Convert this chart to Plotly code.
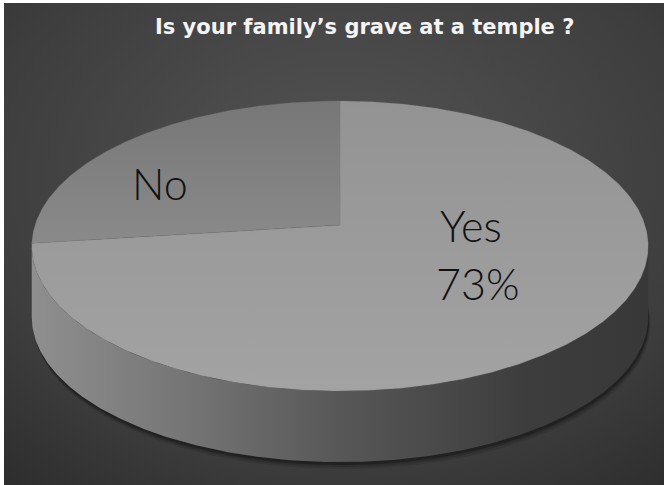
import numpy as np
import plotly.graph_objects as go

# Survey answers
labels = ["Yes", "No"]
values = [73, 27]
title_text = "Is your family’s grave at a temple ?"

# Canvas / pie layout constants (pixel-like axis units)
W, H = 664, 485
CX, CY = 340, 225          # projected centre of the pie's top face
SX, SY = 305, 142          # horizontal / vertical radius scale
K = 0.145                  # perspective strength
DEPTH = 71                 # slab thickness


def project(phi_deg, drop=0.0):
    """Project points on the unit circle (angle clockwise from 12 o'clock)."""
    phi = np.radians(phi_deg)
    u, v = np.sin(phi), np.cos(phi)
    w = 1 + K * v
    return CX + SX * u / w, CY - SY * v / w + drop


fig = go.Figure()

# Background: dark radial vignette
fig.add_trace(go.Scatter(
    x=[-330, 1010, 1010, -330, -330], y=[-330, -330, 690, 690, -330],
    mode="lines", line=dict(width=0), fill="toself",
    fillgradient=dict(type="radial",
                      colorscale=[[0, "#545454"], [0.55, "#3d3d3d"], [1, "#1e1e1e"]]),
    hoverinfo="skip", showlegend=False))

# Full outline samples
phis = np.linspace(0, 360, 721)
tx, ty = project(phis)
bx, by = project(phis, DEPTH)
i_left, i_right = int(np.argmin(tx)), int(np.argmax(tx))

# Soft drop shadow under the slab
for off, op in [(7, 0.10), (5, 0.15), (3, 0.25)]:
    sx_, sy_ = project(phis, DEPTH + off)
    fig.add_trace(go.Scatter(
        x=sx_ + off * 0.3, y=sy_, mode="lines", line=dict(width=0),
        fill="toself", fillcolor=f"rgba(0,0,0,{op})",
        hoverinfo="skip", showlegend=False))

# Side wall: front half of the top rim down to the bottom rim
front = np.arange(i_right, i_left + 1)
side_x = np.concatenate([tx[front], bx[front][::-1], [tx[i_right]]])
side_y = np.concatenate([ty[front], by[front][::-1], [ty[i_right]]])
fig.add_trace(go.Scatter(
    x=side_x, y=side_y, mode="lines", line=dict(width=0), fill="toself",
    fillgradient=dict(type="horizontal",
                      colorscale=[[0, "#8f8f8f"], [0.25, "#757575"],
                                  [0.5, "#575757"], [0.8, "#3d3d3d"], [1, "#383838"]]),
    hoverinfo="skip", showlegend=False))

# Top face slices, clockwise from 12 o'clock
total = sum(values)
slice_fills = {
    "Yes": [[0, "#a3a3a3"], [1, "#939393"]],
    "No": [[0, "#8a8a8a"], [1, "#777777"]],
}
start = 0.0
for lab, val in zip(labels, values):
    sweep = 360.0 * val / total
    a = np.linspace(start, start + sweep, max(int(sweep * 2), 8))
    ax_, ay_ = project(a)
    px = np.concatenate([[CX], ax_, [CX]])
    py = np.concatenate([[CY], ay_, [CY]])
    fig.add_trace(go.Scatter(
        x=px, y=py, mode="lines", line=dict(width=0.5, color="rgba(120,120,120,0.5)"),
        fill="toself",
        fillgradient=dict(type="vertical", colorscale=slice_fills[lab]),
        name=lab, hoverinfo="skip", showlegend=False))
    start += sweep

label_font = dict(family="Lato", size=43, color="#111111", weight=300)
yes_pct = f"{values[labels.index('Yes')]}%"
fig.add_annotation(x=160, y=183, text="No", showarrow=False, font=label_font,
                   xanchor="center", yanchor="middle")
fig.add_annotation(x=471, y=225, text="Yes", showarrow=False, font=label_font,
                   xanchor="center", yanchor="middle")
fig.add_annotation(x=477, y=283, text=yes_pct, showarrow=False, font=label_font,
                   xanchor="center", yanchor="middle")

fig.add_annotation(x=364, y=27, text=f"<b>{title_text}</b>", showarrow=False,
                   font=dict(family="DejaVu Sans", size=21, color="#f4f4f4"),
                   xanchor="center", yanchor="middle")

fig.update_layout(
    width=W, height=H,
    margin=dict(l=4, r=0, t=3, b=0),
    paper_bgcolor="white", plot_bgcolor="#333333",
    xaxis=dict(range=[4, W], visible=False, fixedrange=True),
    yaxis=dict(range=[H, 3], visible=False, fixedrange=True),
    showlegend=False,
)

fig.write_html("out.html")
